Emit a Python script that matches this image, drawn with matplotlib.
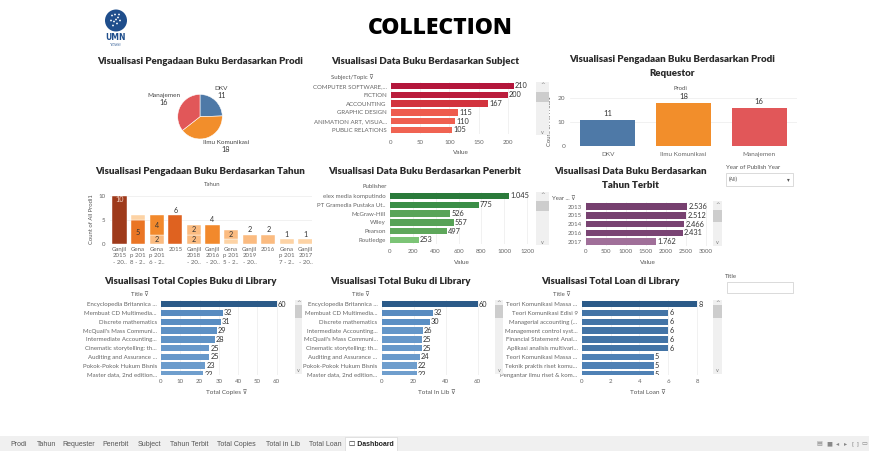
import numpy as np
import matplotlib
matplotlib.use("Agg")
import matplotlib.pyplot as plt
from matplotlib.colors import LinearSegmentedColormap, Normalize
from matplotlib.patches import Rectangle, Ellipse

# ---------------- data ----------------
prodi_labels = ["DKV", "Ilmu Komunikasi", "Manajemen"]
prodi_counts = [11, 18, 16]

subject_labels = ["COMPUTER SOFTWARE,...", "FICTION", "ACCOUNTING", "GRAPHIC DESIGN",
                  "ANIMATION ART, VISUA...", "PUBLIC RELATIONS"]
subject_values = [210, 200, 167, 115, 110, 105]

requestor_labels = ["DKV", "Ilmu Komunikasi", "Manajemen"]
requestor_counts = [11, 18, 16]

tahun_labels = ["Ganjil\n2015\n- 20..", "Gena\np 201\n8 - 2..", "Gena\np 201\n6 - 2..", "2015",
                "Ganjil\n2018\n- 20..", "Ganjil\n2016\n- 20..", "Gena\np 201\n5 - 2..",
                "Ganjil\n2019\n- 20..", "2016", "Gena\np 201\n7 - 2..", "Ganjil\n2017\n- 20.."]
tahun_bottom = [10, 5, 2, 6, 2, 4, 1, 2, 2, 1, 1]
tahun_top = [0, 1, 4, 0, 2, 0, 2, 0, 0, 0, 0]

publisher_labels = ["elex media komputindo", "PT Gramedia Pustaka Ut..", "McGraw-Hill",
                    "Wiley", "Pearson", "Routledge"]
publisher_values = [1045, 775, 526, 557, 497, 253]

year_labels = ["2013", "2015", "2014", "2016", "2017"]
year_values = [2536, 2512, 2466, 2431, 1762]

copies_titles = ["Encyclopedia Britannica ...", "Membuat CD Multimedia...", "Discrete mathematics",
                 "McQuail's Mass Communi...", "Intermediate Accounting...",
                 "Cinematic storytelling: th...", "Auditing and Assurance ...",
                 "Pokok-Pokok Hukum Bisnis", "Master data, 2nd edition..."]
copies_values = [60, 32, 31, 29, 28, 25, 25, 23, 22]

inlib_titles = ["Encyclopedia Britannica ...", "Membuat CD Multimedia...", "Discrete mathematics",
                "Intermediate Accounting...", "McQuail's Mass Communi...",
                "Cinematic storytelling: th...", "Auditing and Assurance ...",
                "Pokok-Pokok Hukum Bisnis", "Master data, 2nd edition..."]
inlib_values = [60, 32, 30, 26, 25, 25, 24, 22, 22]

loan_titles = ["Teori Komunikasi Massa ...", "Teori Komunikasi Edisi 9", "Managerial accounting (...",
               "Management control syst...", "Financial Statement Anal...",
               "Aplikasi analisis multivari...", "Teori Komunikasi Massa ...",
               "Teknik praktis riset komu...", "Pengantar ilmu riset & kom..."]
loan_values = [8, 6, 6, 6, 6, 6, 5, 5, 5]

tab_names = ["Prodi", "Tahun", "Requester", "Penerbit", "Subject", "Tahun Terbit",
             "Total Copies", "Total in Lib", "Total Loan"]

# ---------------- setup ----------------
plt.rcParams['font.family'] = ['Lato', 'DejaVu Sans']
W, H = 869, 451
fig = plt.figure(figsize=(W / 100, H / 100), dpi=100)
fig.patch.set_facecolor("white")

TITLE_C = "#2b2b2b"
TICK_C = "#666666"
GRID_C = "#ececec"


def px_ax(x0, y0, x1, y1):
    return fig.add_axes([x0 / W, 1 - y1 / H, (x1 - x0) / W, (y1 - y0) / H])


def ftext(x, y, s, **kw):
    kw.setdefault("ha", "center")
    kw.setdefault("va", "center")
    return fig.text(x / W, 1 - y / H, s, **kw)


def frect(x0, y0, x1, y1, **kw):
    r = Rectangle((x0 / W, 1 - y1 / H), (x1 - x0) / W, (y1 - y0) / H,
                  transform=fig.transFigure, **kw)
    fig.add_artist(r)
    return r


def fcircle(cx, cy, r, color):
    fig.add_artist(Ellipse((cx / W, 1 - cy / H), 2 * r / W, 2 * r / H,
                           transform=fig.transFigure, facecolor=color, edgecolor="none"))


def panel_title(x, y, s):
    ftext(x, y, s, fontsize=7.0, fontweight="heavy", color=TITLE_C)


def scrollbar(x0, y0, x1, y1, t0, t1):
    frect(x0, y0, x1, y1, facecolor="#f0f0f0", edgecolor="none")
    frect(x0, t0, x1, t1, facecolor="#cdcdcd", edgecolor="none")
    ftext((x0 + x1) / 2, y0 + 3, "^", fontsize=4, color="#777777", family="DejaVu Sans")
    ftext((x0 + x1) / 2, y1 - 3, "v", fontsize=3.5, color="#777777", family="DejaVu Sans")


def dot_fmt(v):
    return f"{v:,}".replace(",", ".")


def hbar_panel(box, labels, values, cmap, norm, xmax, xticks, n_show, pad=3):
    ax = px_ax(*box)
    y = np.arange(len(labels))
    vals = np.array(values)
    ax.barh(y, vals, height=0.74, color=cmap(norm(vals)), zorder=2)
    ax.set_xlim(0, xmax)
    ax.set_ylim(n_show, -0.5)
    ax.set_yticks(y)
    ax.set_yticklabels(labels)
    ax.set_xticks(xticks)
    ax.set_xticklabels([str(t) for t in xticks])
    ax.tick_params(length=0, labelsize=4.4, colors=TICK_C)
    ax.tick_params(axis="x", pad=pad)
    ax.tick_params(axis="y", pad=3)
    for s in ax.spines.values():
        s.set_visible(False)
    ax.grid(axis="x", color=GRID_C, lw=0.5, zorder=0)
    off = xmax * 0.008
    for yi, v in zip(y, vals):
        ax.text(v + off, yi, dot_fmt(int(v)), va="center", ha="left", fontsize=5.3,
                color="#333333", clip_on=True)
    return ax


# ---------------- header ----------------
ftext(440, 28, "COLLECTION", fontsize=16.5, fontweight="heavy", color="black", family="Open Sans")
# logo
fcircle(116, 20.5, 11, "#1f4e8c")
for (dx, dy) in [(-4, -5), (-1, -6), (2, -3), (-5, 0), (-2, 1), (1, 3), (-3, 5), (4, 0), (0, -1), (3, -6)]:
    fcircle(116 + dx, 20.5 + dy, 0.9, "white")
ftext(116, 38, "UMN", fontsize=5.5, fontweight="bold", color="#1f4e8c", family="DejaVu Sans")
ftext(116, 42.5, "UNIVERSITAS\nMULTIMEDIA\nNUSANTARA", fontsize=1.3, color="#1f4e8c",
      linespacing=1.0, family="DejaVu Sans", va="top")

# ---------------- panel 1: pie ----------------
panel_title(200, 61, "Visualisasi Pengadaan Buku Berdasarkan Prodi")
axp = px_ax(177.7, 94.4, 222.3, 139)
axp.pie(prodi_counts, colors=["#4e79a7", "#f28e2b", "#e15759"], startangle=90,
        counterclock=False, radius=1, wedgeprops=dict(edgecolor="white", linewidth=0.4))
axp.set_xlim(-1, 1)
axp.set_ylim(-1, 1)
axp.set_aspect("equal")
pie_label_pos = [(221.5, 88, 95.5), (226, 142, 149), (163.5, 95, 102.5)]
for (lx, ly1, ly2), lab, c in zip(pie_label_pos, prodi_labels, prodi_counts):
    ftext(lx, ly1, lab, fontsize=4.6, color="#444444")
    ftext(lx, ly2, str(c), fontsize=5.2, color="#333333")

# ---------------- panel 2: subject ----------------
panel_title(425, 61, "Visualisasi Data Buku Berdasarkan Subject")
cm_red = LinearSegmentedColormap.from_list(
    "reds", [(0, "#fbb49a"), (0.5, "#f06352"), (0.56, "#ee594d"), (0.8, "#d2323e"), (1, "#b3163b")])
hbar_panel((391, 81.6, 531, 134.4), subject_labels, subject_values, cm_red, Normalize(0, 210),
           240, [0, 50, 100, 150, 200], 5.5, pad=4)
ftext(352, 77, "Subject/Topic \u22bd", fontsize=4.3, color="#555555")
ftext(461, 153, "Value", fontsize=4.6, color="#555555")
scrollbar(536, 82, 549, 135, 92, 102)

# ---------------- panel 3: requestor ----------------
panel_title(672, 60, "Visualisasi Pengadaan Buku Berdasarkan Prodi")
panel_title(672, 74, "Requestor")
axr = px_ax(570, 95.6, 797, 146)
xr = np.arange(len(requestor_labels))
axr.bar(xr, requestor_counts, width=0.73, color=["#4e79a7", "#f28e2b", "#e15759"], zorder=2)
axr.set_xlim(-0.5, 2.5)
axr.set_ylim(0, 21)
axr.set_xticks(xr)
axr.set_xticklabels(requestor_labels)
axr.set_yticks([0, 10, 20])
axr.tick_params(length=0, labelsize=4.6, colors=TICK_C)
axr.tick_params(axis="x", pad=4)
for s in axr.spines.values():
    s.set_visible(False)
axr.grid(axis="y", color=GRID_C, lw=0.5, zorder=0)
for xi, v in zip(xr, requestor_counts):
    axr.text(xi, v + 1.0, str(v), ha="center", va="bottom", fontsize=5.5, color="#333333")
axr.set_ylabel("Count of All Prodi1", fontsize=4.2, color="#555555", labelpad=4)
ftext(680, 88, "Prodi", fontsize=4.3, color="#555555")

# ---------------- panel 4: tahun ----------------
panel_title(200, 171, "Visualisasi Pengadaan Buku Berdasarkan Tahun")
ftext(212, 185, "Tahun", fontsize=4.3, color="#555555")
cm_or = LinearSegmentedColormap.from_list(
    "oranges", [(0, "#fdd3a5"), (0.11, "#fbbb80"), (0.33, "#f28a2c"), (0.53, "#e36420"), (1, "#9e3a1b")])
nor = Normalize(1, 10)
axt = px_ax(110.2, 193.3, 312, 244.3)
xt = np.arange(len(tahun_labels))
bot = np.array(tahun_bottom)
top = np.array(tahun_top)
axt.bar(xt, bot, width=0.77, color=cm_or(nor(bot)), edgecolor="white", linewidth=0.3, zorder=2)
mask = top > 0
axt.bar(xt[mask], top[mask], bottom=bot[mask], width=0.77, color=cm_or(nor(top[mask])),
        edgecolor="white", linewidth=0.3, zorder=2)
axt.set_xlim(-0.5, 10.35)
axt.set_ylim(0, 10.6)
axt.set_xticks(xt)
axt.set_xticklabels(tahun_labels, linespacing=1.35)
axt.set_yticks([0, 5, 10])
axt.tick_params(length=0, labelsize=4.4, colors=TICK_C)
axt.tick_params(axis="x", pad=2)
for s in axt.spines.values():
    s.set_visible(False)
axt.grid(axis="y", color=GRID_C, lw=0.5, zorder=0)
axt.set_ylabel("Count of All Prodi1", fontsize=4.2, color="#555555", labelpad=3)
vmax = bot.max()
for xi, b, t in zip(xt, bot, top):
    if t > 0:
        if b >= 2:
            axt.text(xi, b / 2, str(b), ha="center", va="center", fontsize=5.2, color="#333333")
        if t >= 2:
            axt.text(xi, b + t / 2, str(t), ha="center", va="center", fontsize=5.2, color="#333333")
    elif b == vmax:
        axt.text(xi, b - 0.7, str(b), ha="center", va="center", fontsize=5.2, color="#f5d5c8")
    else:
        axt.text(xi, b + 0.35, str(b), ha="center", va="bottom", fontsize=5.2, color="#333333",
                 clip_on=False)

# ---------------- panel 5: publisher ----------------
panel_title(425, 171, "Visualisasi Data Buku Berdasarkan Penerbit")
cm_gr = LinearSegmentedColormap.from_list(
    "greens", [(0, "#a6dc98"), (0.24, "#7cc476"), (0.48, "#5da65a"), (0.53, "#57a257"),
               (0.74, "#3b8e47"), (1, "#2a7a3a")])
hbar_panel((390, 191.6, 533, 244.4), publisher_labels, publisher_values, cm_gr, Normalize(0, 1045),
           1252, [0, 200, 400, 600, 800, 1000, 1200], 5.5, pad=3)
ftext(387, 187, "Publisher", fontsize=4.3, color="#555555", ha="right")
ftext(461.5, 263, "Value", fontsize=4.6, color="#555555")
scrollbar(536, 192, 549, 245, 201, 211)

# ---------------- panel 6: year ----------------
panel_title(630, 172, "Visualisasi Data Buku Berdasarkan")
panel_title(630, 185, "Tahun Terbit")
cm_pu = LinearSegmentedColormap.from_list(
    "purples", [(0, "#dcc4d8"), (0.69, "#a1709a"), (0.95, "#7b4575"), (1, "#76406f")])
hbar_panel((585.7, 202.3, 711, 246), year_labels, year_values, cm_pu, Normalize(0, 2536),
           3130, [0, 500, 1000, 1500, 2000, 2500, 3000], 4.5, pad=2.5)
ftext(552, 199, "Year ... \u22bd", fontsize=4.3, color="#555555", ha="left")
ftext(648, 262, "Value", fontsize=4.6, color="#555555")
scrollbar(713, 201, 722, 246, 210, 222)

# filter: year of publish year
ftext(726, 167, "Year of Publish Year", fontsize=4.4, color="#555555", ha="left")
frect(726, 173, 793, 186, facecolor="white", edgecolor="#cccccc", linewidth=0.5)
ftext(729, 179.5, "(All)", fontsize=3.8, color="#555555", ha="left")
ftext(788, 179.5, "\u25be", fontsize=4, color="#555555", family="DejaVu Sans")

# ---------------- panel 7: total copies ----------------
cm_bl = LinearSegmentedColormap.from_list("blues", [(0, "#a4c6e6"), (0.5, "#5b8fc4"), (1, "#2b5a88")])
panel_title(190, 281, "Visualisasi Total Copies Buku di Library")
hbar_panel((161, 299.8, 292, 374.5), copies_titles, copies_values, cm_bl, Normalize(0, 60),
           68, [0, 10, 20, 30, 40, 50, 60], 7.8, pad=3)
ftext(140, 295, "Title \u22bd", fontsize=4.3, color="#555555")
ftext(226.5, 392.5, "Total Copies \u22bd", fontsize=4.6, color="#555555")
scrollbar(295, 300, 302, 374, 305, 318)

# ---------------- panel 8: total in lib ----------------
panel_title(400, 281, "Visualisasi Total Buku di Library")
hbar_panel((381.7, 299.8, 492, 374.5), inlib_titles, inlib_values, cm_bl, Normalize(0, 60),
           69, [0, 20, 40, 60], 7.8, pad=3)
ftext(361, 295, "Title \u22bd", fontsize=4.3, color="#555555")
ftext(437, 392.5, "Total In Lib \u22bd", fontsize=4.6, color="#555555")
scrollbar(495, 300, 503, 374, 305, 318)

# ---------------- panel 9: total loan ----------------
panel_title(610, 281, "Visualisasi Total Loan di Library")
hbar_panel((581.7, 299.8, 711, 374.5), loan_titles, loan_values, cm_bl, Normalize(0, 8),
           8.95, [0, 2, 4, 6, 8], 7.8, pad=3)
ftext(562, 295, "Title \u22bd", fontsize=4.3, color="#555555")
ftext(648, 392.5, "Total Loan \u22bd", fontsize=4.6, color="#555555")
scrollbar(713, 300, 722, 374, 305, 318)

# filter: title
ftext(725, 276, "Title", fontsize=4.4, color="#555555", ha="left")
frect(727, 282, 793, 293, facecolor="white", edgecolor="#cccccc", linewidth=0.5)

# ---------------- bottom tab bar ----------------
frect(0, 436, W, H, facecolor="#f0f0f0", edgecolor="none")
tab_x = [10, 37, 62, 102, 138, 170, 217, 266, 309]
for tx, name in zip(tab_x, tab_names):
    ftext(tx, 444, name, fontsize=5, color="#555555", ha="left", family="Liberation Sans")
frect(345, 436.5, 397, H, facecolor="white", edgecolor="#d8d8d8", linewidth=0.5)
ftext(349, 444, "\u2610 Dashboard", fontsize=5, color="#222222", ha="left", fontweight="bold",
      family=["Liberation Sans", "DejaVu Sans"])
icon_x = [819, 829, 838, 846, 855, 864]
for ix, ic in zip(icon_x, ["\u25a4", "\u25a0", "\u25c2", "\u25b8", "[ ]", "\u25ad"]):
    ftext(ix, 444, ic, fontsize=4.5, color="#888888", family="DejaVu Sans")

fig.savefig("out.png", dpi=100, facecolor="white")
